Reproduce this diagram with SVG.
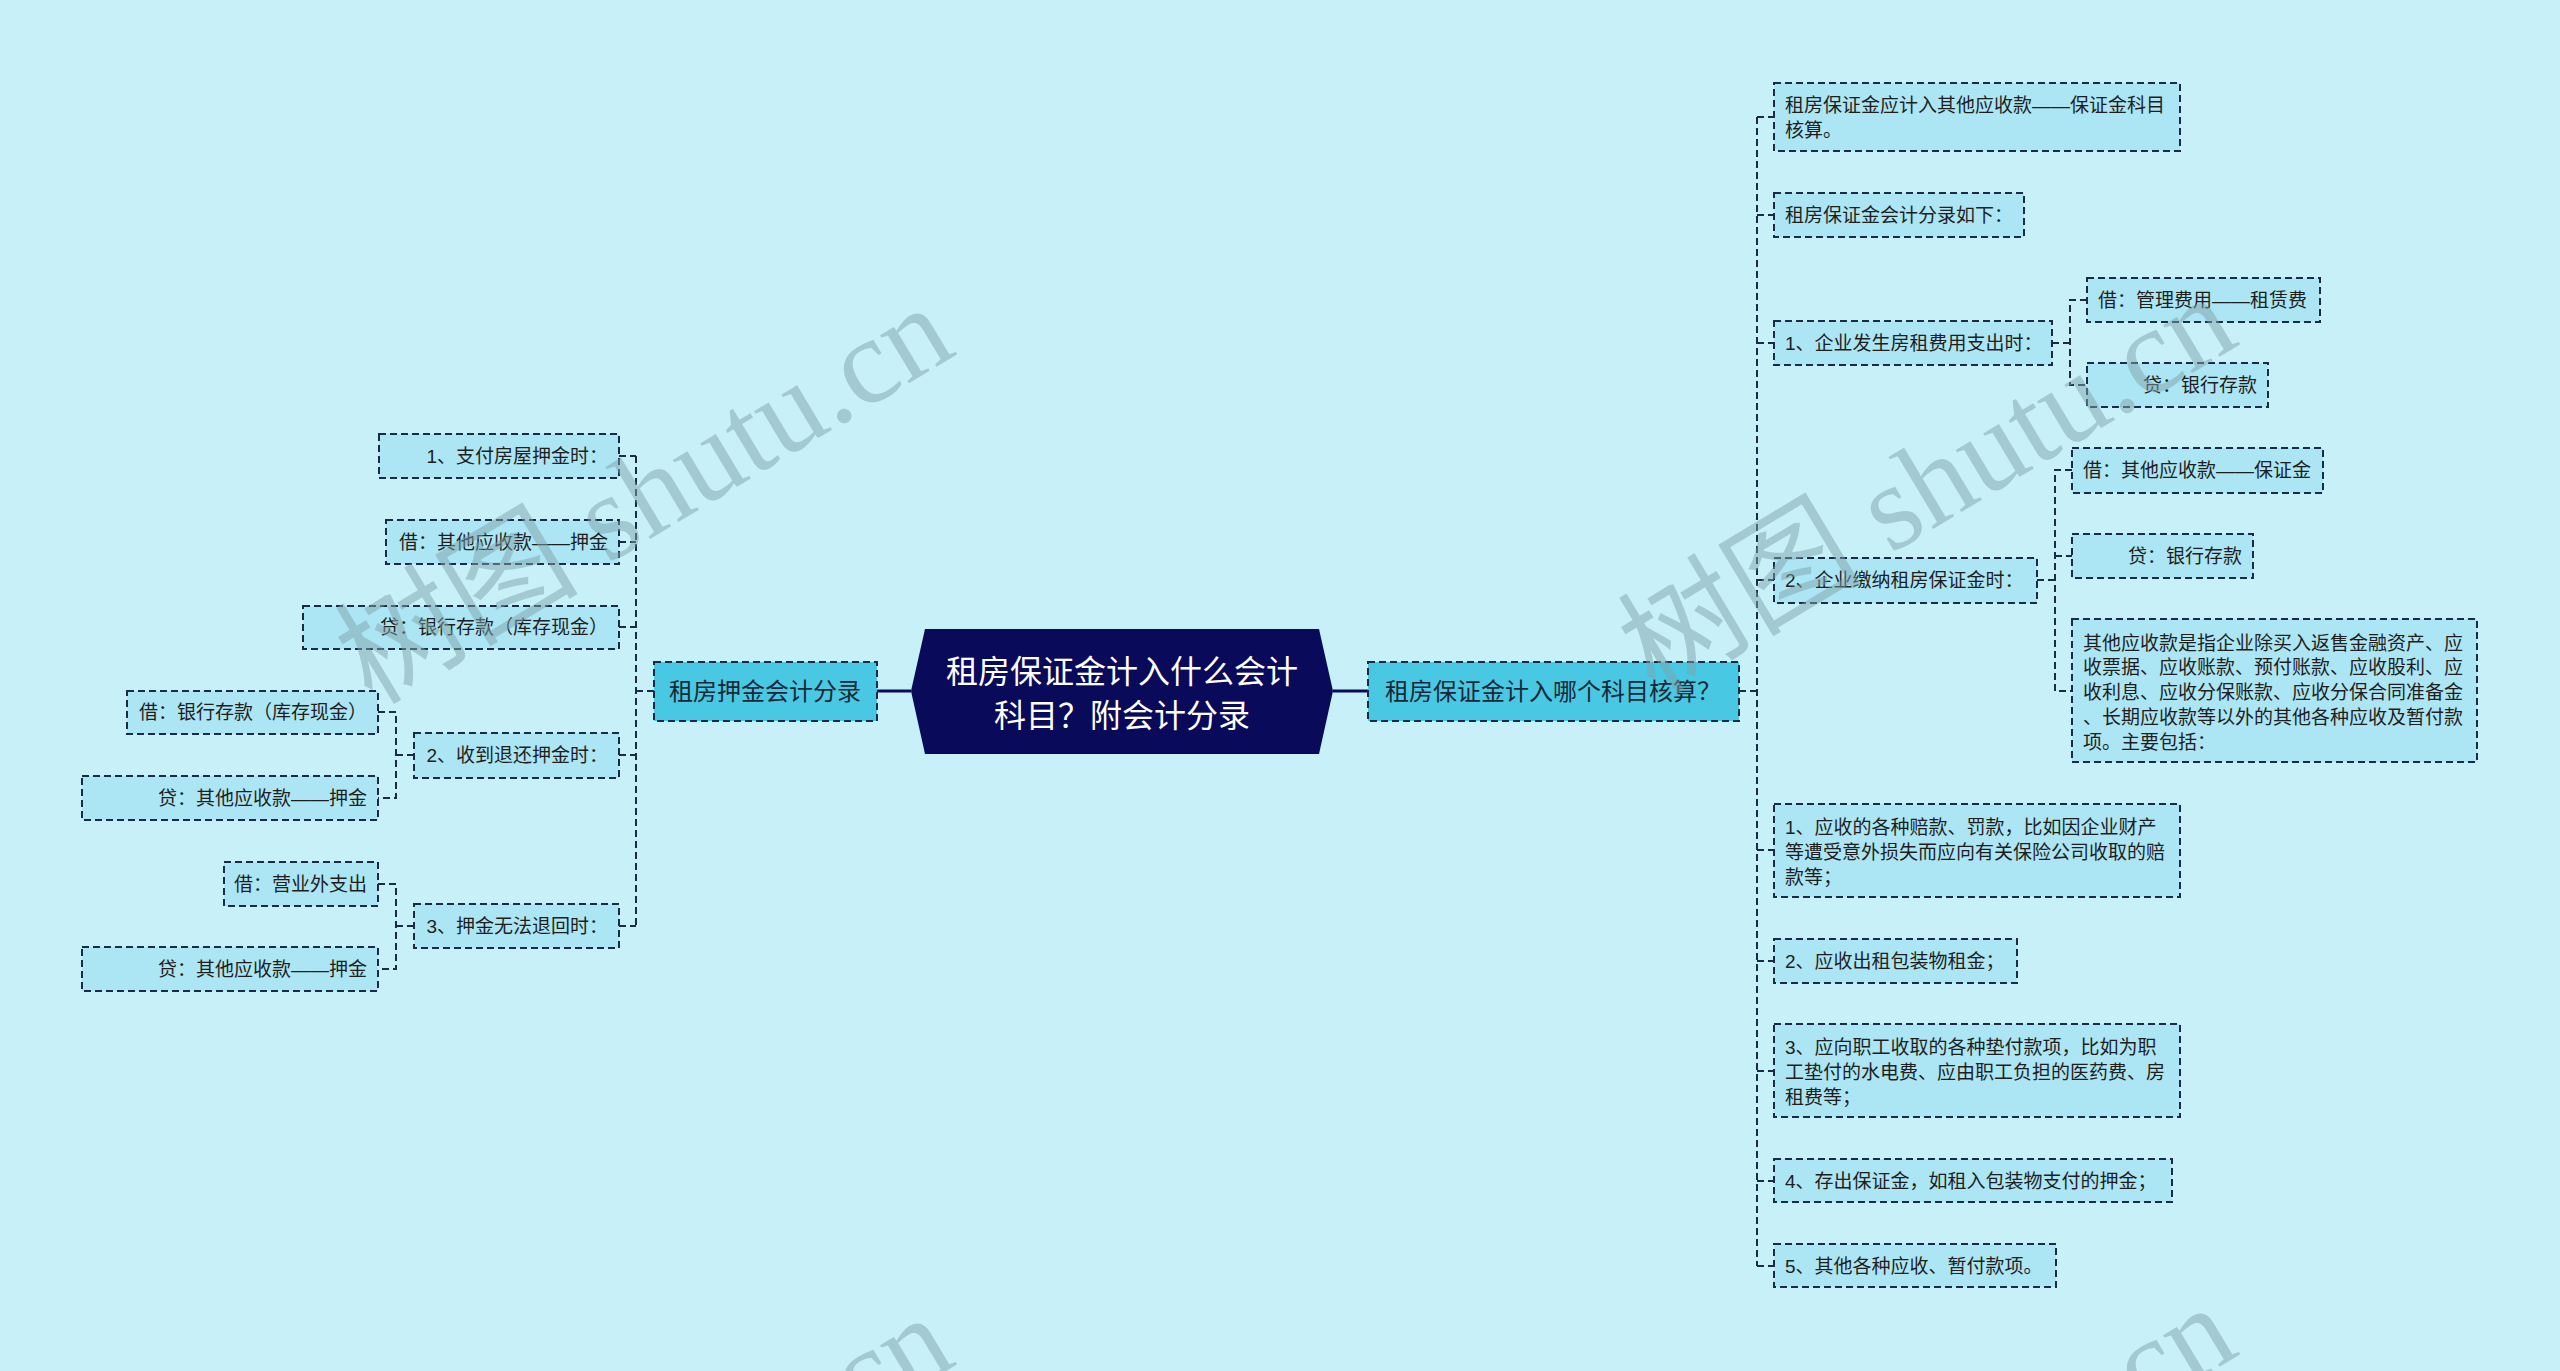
<svg xmlns="http://www.w3.org/2000/svg" xmlns:xlink="http://www.w3.org/1999/xlink" width="2560" height="1371" viewBox="0 0 2560 1371">
<defs>
<style>
.leaf{fill:#ace5f3;stroke:#1b2a45;stroke-width:2;stroke-dasharray:7 4}
.main{fill:#48c8e2;stroke:#1b2a45;stroke-width:2;stroke-dasharray:7 4}
.t{font-family:"Liberation Sans","Noto Sans CJK SC",sans-serif;font-size:19px;fill:#1e1e1e;dominant-baseline:central}
.r{text-anchor:end}
.mt{font-family:"Liberation Sans","Noto Sans CJK SC",sans-serif;font-size:24px;fill:#182838;dominant-baseline:central;text-anchor:middle}
.ct{font-family:"Noto Sans CJK SC",sans-serif;font-size:32px;fill:#ffffff;dominant-baseline:central;text-anchor:middle}
.dc{fill:none;stroke:#1b2a45;stroke-width:2;stroke-dasharray:7 4}
.sc{fill:none;stroke:#0a0a5a;stroke-width:3}
.wm{font-family:"Liberation Serif","Noto Sans CJK SC",serif;font-size:122px;fill:#7fa4ad;opacity:0.5}
</style>
<g id="wmark"><text class="wm" x="0" y="0">树图 shutu.cn</text></g>
</defs>
<rect x="0" y="0" width="2560" height="1371" fill="#c8f0f8"/>

<g id="connectors">
<path class="sc" d="M877,691 H911 M1333,691 H1368"/>
<path class="dc" d="M654,691 H636 M636,456 V926 M619,456 H636 M619,542 H636 M619,627 H636 M619,755 H636 M619,926 H636"/>
<path class="dc" d="M378,712 H396 V798 H378 M396,755 H414"/>
<path class="dc" d="M378,884 H396 V969 H378 M396,926 H414"/>
<path class="dc" d="M1739,691 H1757 M1757,117 V1266 M1757,117 H1774 M1757,215 H1774 M1757,343 H1774 M1757,580 H1774 M1757,850 H1774 M1757,961 H1774 M1757,1071 H1774 M1757,1181 H1774 M1757,1266 H1774"/>
<path class="dc" d="M2052,343 H2070 M2087,300 H2070 V385 H2087"/>
<path class="dc" d="M2037,580 H2055 M2072,470 H2055 V691 H2072 M2055,556 H2072"/>
</g>

<g id="root">
<polygon points="925,629 1319,629 1333,691 1319,754 925,754 911,691" fill="#0a0a5a"/>
<text class="ct" x="1122" y="669">租房保证金计入什么会计</text>
<text class="ct" x="1122" y="713">科目？附会计分录</text>
</g>

<g id="left-main">
<rect class="main" x="654" y="662" width="223" height="59"/>
<text class="mt" x="765" y="691">租房押金会计分录</text>
</g>
<g id="right-main">
<rect class="main" x="1368" y="662" width="371" height="59"/>
<text class="mt" x="1553" y="691">租房保证金计入哪个科目核算？</text>
</g>

<g id="L1"><rect class="leaf" x="379" y="434" width="240" height="44"/><text class="t r" x="608" y="456">1、支付房屋押金时：</text></g>
<g id="L2"><rect class="leaf" x="386" y="520" width="233" height="44"/><text class="t r" x="608" y="542">借：其他应收款——押金</text></g>
<g id="L3"><rect class="leaf" x="303" y="606" width="316" height="43"/><text class="t r" x="608" y="627">贷：银行存款（库存现金）</text></g>
<g id="L4"><rect class="leaf" x="414" y="733" width="205" height="45"/><text class="t r" x="608" y="755">2、收到退还押金时：</text></g>
<g id="L4a"><rect class="leaf" x="127" y="691" width="251" height="43"/><text class="t r" x="367" y="712">借：银行存款（库存现金）</text></g>
<g id="L4b"><rect class="leaf" x="82" y="776" width="296" height="44"/><text class="t r" x="367" y="798">贷：其他应收款——押金</text></g>
<g id="L5"><rect class="leaf" x="414" y="904" width="205" height="44"/><text class="t r" x="608" y="926">3、押金无法退回时：</text></g>
<g id="L5a"><rect class="leaf" x="224" y="862" width="154" height="44"/><text class="t r" x="367" y="884">借：营业外支出</text></g>
<g id="L5b"><rect class="leaf" x="82" y="947" width="296" height="44"/><text class="t r" x="367" y="969">贷：其他应收款——押金</text></g>

<g id="R1"><rect class="leaf" x="1774" y="83" width="406" height="68"/><text class="t" x="1785" y="105">租房保证金应计入其他应收款——保证金科目</text><text class="t" x="1785" y="130">核算。</text></g>
<g id="R2"><rect class="leaf" x="1774" y="193" width="250" height="44"/><text class="t" x="1785" y="215">租房保证金会计分录如下：</text></g>
<g id="R3"><rect class="leaf" x="1774" y="321" width="278" height="44"/><text class="t" x="1785" y="343">1、企业发生房租费用支出时：</text></g>
<g id="R3a"><rect class="leaf" x="2087" y="278" width="233" height="44"/><text class="t" x="2098" y="300">借：管理费用——租赁费</text></g>
<g id="R3b"><rect class="leaf" x="2087" y="363" width="181" height="44"/><text class="t r" x="2257" y="385">贷：银行存款</text></g>
<g id="R4"><rect class="leaf" x="1774" y="558" width="263" height="45"/><text class="t" x="1785" y="580">2、企业缴纳租房保证金时：</text></g>
<g id="R4a"><rect class="leaf" x="2072" y="448" width="251" height="45"/><text class="t" x="2083" y="470">借：其他应收款——保证金</text></g>
<g id="R4b"><rect class="leaf" x="2072" y="534" width="181" height="44"/><text class="t r" x="2242" y="556">贷：银行存款</text></g>
<g id="R4c"><rect class="leaf" x="2072" y="619" width="405" height="143"/>
<text class="t" x="2083" y="643">其他应收款是指企业除买入返售金融资产、应</text>
<text class="t" x="2083" y="667">收票据、应收账款、预付账款、应收股利、应</text>
<text class="t" x="2083" y="692">收利息、应收分保账款、应收分保合同准备金</text>
<text class="t" x="2083" y="717">、长期应收款等以外的其他各种应收及暂付款</text>
<text class="t" x="2083" y="742">项。主要包括：</text></g>
<g id="R5"><rect class="leaf" x="1774" y="804" width="406" height="93"/>
<text class="t" x="1785" y="827">1、应收的各种赔款、罚款，比如因企业财产</text>
<text class="t" x="1785" y="852">等遭受意外损失而应向有关保险公司收取的赔</text>
<text class="t" x="1785" y="877">款等；</text></g>
<g id="R6"><rect class="leaf" x="1774" y="939" width="243" height="44"/><text class="t" x="1785" y="961">2、应收出租包装物租金；</text></g>
<g id="R7"><rect class="leaf" x="1774" y="1024" width="406" height="93"/>
<text class="t" x="1785" y="1047">3、应向职工收取的各种垫付款项，比如为职</text>
<text class="t" x="1785" y="1072">工垫付的水电费、应由职工负担的医药费、房</text>
<text class="t" x="1785" y="1097">租费等；</text></g>
<g id="R8"><rect class="leaf" x="1774" y="1159" width="398" height="43"/><text class="t" x="1785" y="1181">4、存出保证金，如租入包装物支付的押金；</text></g>
<g id="R9"><rect class="leaf" x="1774" y="1244" width="282" height="43"/><text class="t" x="1785" y="1266">5、其他各种应收、暂付款项。</text></g>

<g id="watermarks">
<use xlink:href="#wmark" transform="translate(372,706) rotate(-31)"/>
<use xlink:href="#wmark" transform="translate(1655,696) rotate(-31)"/>
<use xlink:href="#wmark" transform="translate(372,1716) rotate(-31)"/>
<use xlink:href="#wmark" transform="translate(1655,1706) rotate(-31)"/>
</g>
</svg>
